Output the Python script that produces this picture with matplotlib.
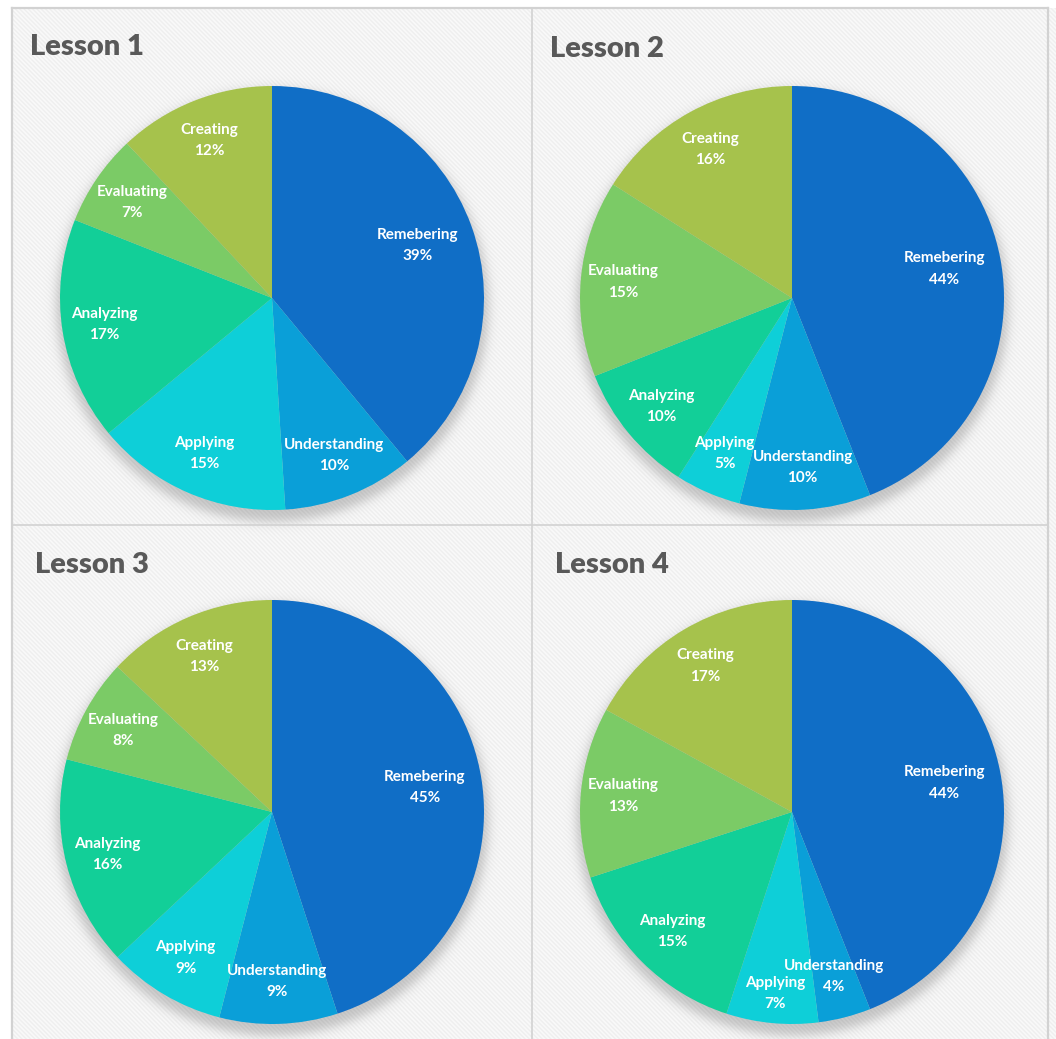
import numpy as np
import matplotlib
matplotlib.use("Agg")
import matplotlib.pyplot as plt

# Share of question types per lesson (Bloom's taxonomy)
categories = ["Remebering", "Understanding", "Applying", "Analyzing", "Evaluating", "Creating"]
lessons = ["Lesson 1", "Lesson 2", "Lesson 3", "Lesson 4"]
lesson1 = [39, 10, 15, 17, 7, 12]
lesson2 = [44, 10, 5, 10, 15, 16]
lesson3 = [45, 9, 9, 16, 8, 13]
lesson4 = [44, 4, 7, 15, 13, 17]

colors = ["#106EC6", "#0A9FD8", "#0ECFD8", "#12CF98", "#7BCB66", "#A6C24C"]

W, H, DPI = 1056, 1039, 100
R = 212
centers = [(272, 298), (792, 298), (272, 812), (792, 812)]
title_pos = [(30, 47), (550, 49), (35, 565), (555, 565)]

fig = plt.figure(figsize=(W / DPI, H / DPI), dpi=DPI)

# striped panel background with soft drop shadows under the pies
yy, xx = np.mgrid[0:H, 0:W].astype(float)
bg = 0.958 + 0.022 * np.cos(2 * np.pi * (xx - yy) / 4.3)
for cx, cy in centers:
    d = np.hypot(xx - cx, yy - (cy + 7))
    shade = 0.2 * 0.5 * (1 - np.tanh((d - (R + 4)) / 6.5))
    bg *= 1 - shade
bg[:, :12] = 1.0
bg[:8, :] = 1.0
img = np.dstack([bg, bg, bg])

bax = fig.add_axes([0, 0, 1, 1])
bax.imshow(img, extent=(0, W, H, 0), interpolation="nearest")
bax.set_xlim(0, W)
bax.set_ylim(H, 0)
bax.axis("off")

# panel frame and dividers
edge = "#D2D2D2"
bax.plot([12, 1048], [8, 8], color=edge, lw=1.6)
bax.plot([12, 12], [8, H], color=edge, lw=1.6)
bax.plot([1048, 1048], [8, H], color=edge, lw=1.6)
bax.plot([532, 532], [8, H], color=edge, lw=1.2)
bax.plot([12, 1048], [525, 525], color=edge, lw=1.2)

for name, (tx, ty) in zip(lessons, title_pos):
    bax.text(tx, ty, name, fontsize=21, fontweight="heavy", color="#595959",
             family=["Lato", "DejaVu Sans"], ha="left", va="center")

label_style = dict(ha="center", va="center", color="white", fontsize=11,
                   fontweight="bold", family=["Lato", "DejaVu Sans"],
                   textcoords="offset points")

data = [lesson1, lesson2, lesson3, lesson4]
for values, (cx, cy) in zip(data, centers):
    ax = fig.add_axes([(cx - R) / W, (H - cy - R) / H, 2 * R / W, 2 * R / H])
    wedges, _ = ax.pie(values, colors=colors, startangle=90, counterclock=False,
                       radius=1, wedgeprops=dict(linewidth=0))
    ax.set_xlim(-1, 1)
    ax.set_ylim(-1, 1)
    ax.set_aspect("equal")
    ax.axis("off")

    total = sum(values)
    for i, (w, cat, v) in enumerate(zip(wedges, categories, values)):
        mid = np.deg2rad((w.theta1 + w.theta2) / 2)
        if v / total > 0.3:
            dist = 0.73
        elif v < 8 and i > 0 and values[i - 1] < 6:
            dist = 0.86  # push out past a thin neighbouring slice
        else:
            dist = 0.8
        xy = (dist * np.cos(mid), dist * np.sin(mid))
        # category name above, percentage below
        ax.annotate(cat, xy, xytext=(0, 7.6), **label_style)
        ax.annotate(f"{v}%", xy, xytext=(0, -7.6), **label_style)

fig.savefig("out.png", dpi=DPI)
